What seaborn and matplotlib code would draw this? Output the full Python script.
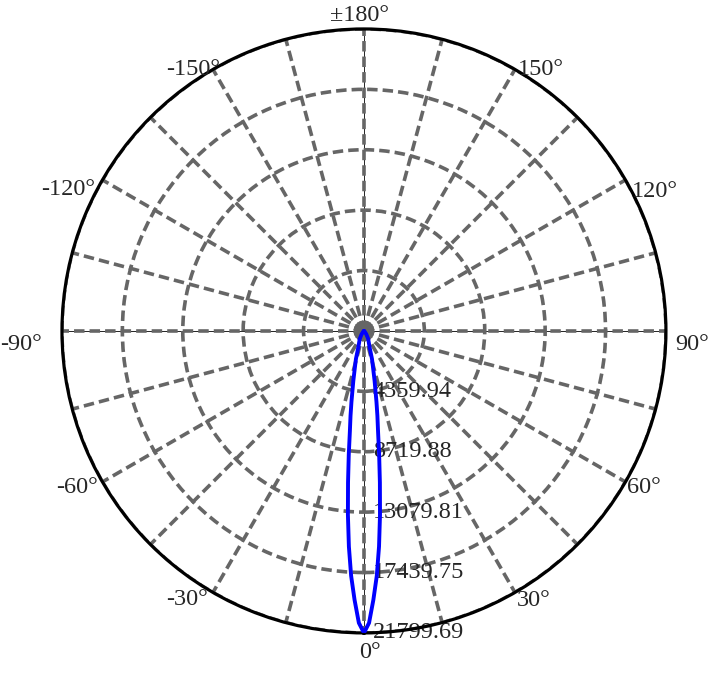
import numpy as np
import matplotlib
matplotlib.use("Agg")
import matplotlib.pyplot as plt
import seaborn as sns

# luminous intensity curve (cd), symmetric narrow beam
angles_deg = [-180, -90, -60, -45, -35, -28, -19, -16, -14, -12, -10, -9, -8, -7, -6, -5, -4, -3, -2, -1,
              0, 1, 2, 3, 4, 5, 6, 7, 8, 9, 10, 12, 14, 16, 19, 28, 35, 45, 60, 90, 180]
intensity = [0, 0, 30, 100, 300, 650, 1250, 2100, 2700, 3700, 5200, 6200, 7300, 9000, 11000, 13300, 15600, 17700, 19430, 21080,
             21799.69, 21080, 19430, 17700, 15600, 13300, 11000, 9000, 7300, 6200, 5200, 3700, 2700, 2100, 1250, 650, 300, 100, 30, 0, 0]

r_ticks = [4359.94, 8719.88, 13079.81, 17439.75, 21799.69]
r_labels = ["4359.94", "8719.88", "13079.81", "17439.75", "21799.69"]

theta_grid = np.arange(0, 360, 15)
theta_ticks = [0, 30, 60, 90, 120, 150, 180, -150, -120, -90, -60, -30]
theta_labels = ["0°", "30°", "60°", "90°", "120°", "150°", "±180°", "-150°", "-120°", "-90°", "-60°", "-30°"]
# label placement: (ha, va, dx px, dy px)
label_place = [("center", "top", 6, -9), ("left", "center", 2, -8), ("left", "center", 2, -6),
               ("left", "center", 9, -14), ("left", "center", 6, -12), ("left", "center", 3, 0),
               ("center", "bottom", -4, 3), ("right", "center", 7, 0), ("right", "center", -7, -10),
               ("right", "center", -20, -14), ("right", "center", -5, -6), ("right", "center", -5, -7)]

sns.set_style("white")
plt.rcParams["font.family"] = ["Liberation Serif", "DejaVu Serif"]

rmax = r_ticks[-1]
fig = plt.figure(figsize=(7.19, 6.78), dpi=100)
ax = fig.add_axes([0.0862, 0.0664, 0.840, 0.891], projection="polar")
ax.set_theta_zero_location("S")
ax.set_theta_direction(1)

sns.lineplot(x=np.deg2rad(angles_deg), y=intensity, sort=False, estimator=None,
             color="#0000ff", linewidth=2.8, ax=ax, zorder=3)

ax.set_ylim(0, rmax)
ax.set_yticks(r_ticks)
ax.set_yticklabels([])
ax.set_xticks(np.deg2rad(theta_grid))
ax.set_xticklabels([])
ax.set_xlabel("")
ax.set_ylabel("")
ax.set_axisbelow(True)
ax.grid(True, color="#666666", linewidth=2.6, linestyle=(0, (2.9, 1.4)))
ax.spines["polar"].set_color("black")
ax.spines["polar"].set_linewidth(2.3)

# thin black axis lines under the dashed grid
ax.vlines(np.deg2rad([0, 90, 180, 270]), 0, rmax, color="black", linewidth=0.6, zorder=0.4)

for t, lab, (ha, va, dx, dy) in zip(theta_ticks, theta_labels, label_place):
    ax.annotate(lab, xy=(np.deg2rad(t), rmax), xytext=(dx * 0.72, dy * 0.72),
                textcoords="offset points", ha=ha, va=va, fontsize=17.5,
                annotation_clip=False)

for r, lab in zip(r_ticks, r_labels):
    ax.annotate(lab, xy=(0, r), xytext=(9 * 0.72, 0), textcoords="offset points",
                ha="left", va="center", fontsize=17.5, zorder=1)

fig.savefig("out.png", dpi=100)
